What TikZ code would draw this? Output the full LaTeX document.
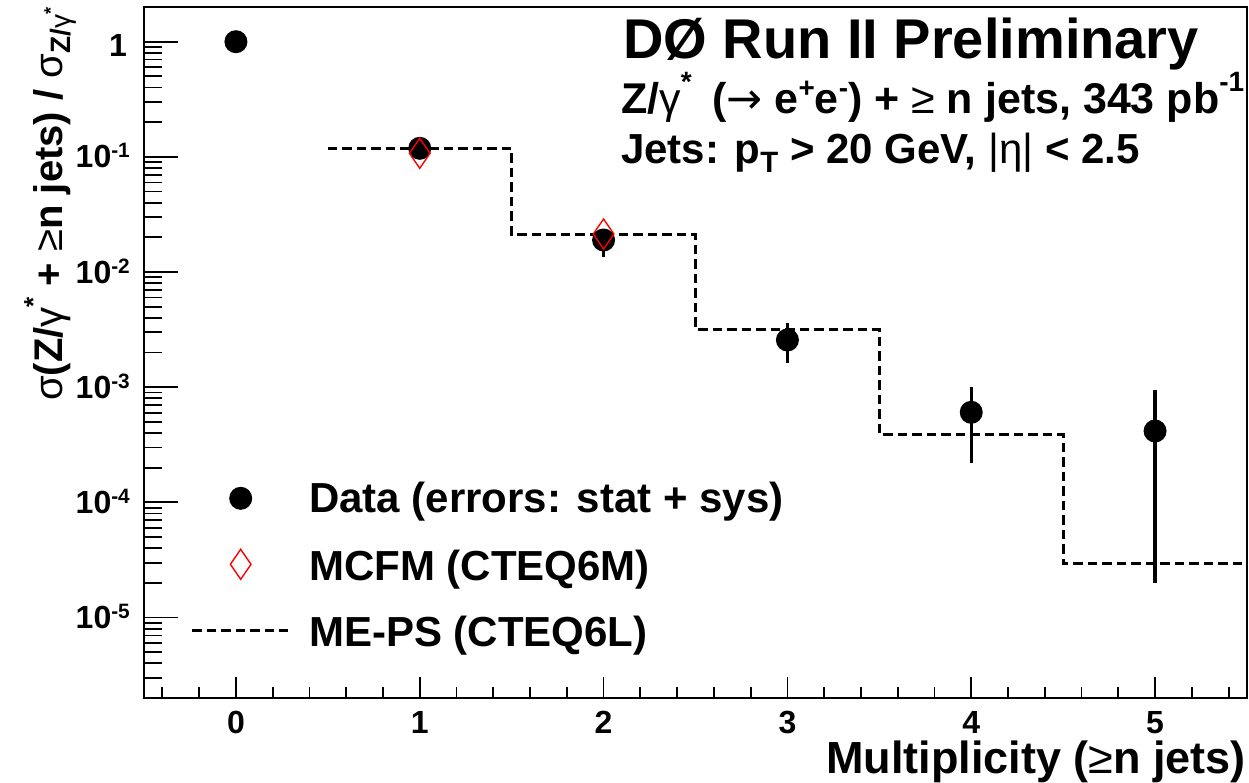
\documentclass[tikz,border=0pt]{standalone}
\usepackage{fontspec}
\setmainfont{Liberation Sans}
\newfontfamily\symf{DejaVu Sans}
\newcommand\rg[1]{{\mdseries #1}}
\newcommand\sps[2]{\raisebox{#1}{\scalebox{0.65}{#2}}}
\newcommand\sbs[1]{\raisebox{-0.22em}{\scalebox{0.7}{#1}}}
\begin{document}
\begin{tikzpicture}[x=1pt,y=-1pt,
  declare function={X(\n)=144+(\n+0.5)*183.83; Y(\l)=41.7-115.17*\l;},
  frame/.style={line width=2pt},
  tick/.style={line width=1.8pt},
  datapt/.style={circle,fill=black,inner sep=0pt,minimum size=23pt},
  errbar/.style={line width=3.5pt},
  mcfm/.style={draw=red,line width=1.4pt,line join=miter},
  meps/.style={line width=3pt,dash pattern=on 9.5pt off 5pt},
  lbl/.style={font=\fontsize{32}{36}\selectfont\bfseries,inner sep=0pt},
  leg/.style={font=\fontsize{42}{46}\selectfont\bfseries,inner sep=0pt,anchor=base west},
  hdr/.style={font=\fontsize{42}{46}\selectfont\bfseries,inner sep=0pt,anchor=base west},
]
\useasboundingbox (0,0) rectangle (1249,782);
\fill[white] (0,0) rectangle (1249,782);

% frame
\draw[frame] (144,7) rectangle (1247,698);

% y ticks
\foreach \d in {0,-1,...,-5} \draw[tick] (144,{Y(\d)}) -- ++(34,0);
\foreach \d in {-1,-2,...,-5} \foreach \k in {2,...,9} \draw[tick] (144,{Y(\d+log10(\k))}) -- ++(17.5,0);
\foreach \k in {3,...,9} \draw[tick] (144,{Y(-6+log10(\k))}) -- ++(17.5,0);

% x ticks
\foreach \i in {-2,...,27} {
  \pgfmathsetmacro\xx{X(\i*0.2)}
  \pgfmathtruncatemacro\m{mod(\i+100,5)}
  \ifnum\m=0 \draw[tick] (\xx,698) -- ++(0,-21); \else \draw[tick] (\xx,698) -- ++(0,-11); \fi
}

% y labels
\node[lbl,anchor=base east] (ly0) at (127,56) {1};
\foreach \d in {1,...,5} \node[lbl,anchor=base east] (ly\d) at (130,{Y(-\d)+11}) {10\sps{10pt}{-\d}};
% x labels
\foreach \n in {0,...,5} \node[lbl,anchor=base] (lx\n) at ({X(\n)},733) {\n};

% axis titles
\node[font=\fontsize{45}{48}\selectfont\bfseries,inner sep=0pt,anchor=base east] (xt) at (1246,773) {Multiplicity (\rg{≥}n jets)};
\node[font=\fontsize{40}{44}\selectfont\bfseries,inner sep=0pt,anchor=base west,rotate=90] (yt) at (62,401)
  {\rg{σ}(Z/\rg{γ}\sps{0.5em}{*} + \rg{≥}n jets) / \rg{σ}\sbs{Z/\rg{γ}\sps{0.5em}{*}}};

% header
\node[font=\fontsize{56}{60}\selectfont\bfseries,inner sep=0pt,anchor=base west] (t1) at (623,58) {DØ Run II Preliminary};
\node[font=\fontsize{43}{46}\selectfont\bfseries,inner sep=0pt,anchor=base west] (t2) at (621,113) {Z/\rg{γ}\sps{0.5em}{*}\hspace{0.2em} (\rg{\symf →} e\sps{0.35em}{+}e\sps{0.35em}{-}) + \rg{≥} n jets, 343 pb\sps{0.5em}{-1}};
\node[hdr] (t3) at (621,163) {Jets: p\sbs{T} > 20 GeV, \rg{|η|} < 2.5};

% ME-PS histogram
\draw[meps] ({X(0.5)},148.5) -| ({X(1.5)},234.5) -| ({X(2.5)},329.3) -| ({X(3.5)},434) -| ({X(4.5)},563) -- (1247,563);

% error bars
\draw[errbar] ({X(2)},229) -- ({X(2)},257);
\draw[errbar] ({X(3)},323) -- ({X(3)},363);
\draw[errbar] ({X(4)},386.7) -- ({X(4)},463.3);
\draw[errbar] ({X(5)},390) -- ({X(5)},583.3);

% data points
\node[datapt] (d0) at ({X(0)},41.7) {};
\node[datapt] (d1) at ({X(1)},148.3) {};
\node[datapt] (d2) at ({X(2)},240) {};
\node[datapt] (d3) at ({X(3)},340) {};
\node[datapt] (d4) at ({X(4)},412.3) {};
\node[datapt] (d5) at ({X(5)},431) {};

% MCFM diamonds
\draw[mcfm] ({X(1)},138.3) -- ++(10.3,15) -- ++(-10.3,15) -- ++(-10.3,-15) -- cycle;
\draw[mcfm] ({X(2)},219) -- ++(10.3,15) -- ++(-10.3,15) -- ++(-10.3,-15) -- cycle;

% legend
\node[datapt] (lc) at (240.7,498.3) {};
\node[leg] (l1) at (309,512) {Data (errors: stat + sys)};
\draw[mcfm] (240.7,549.3) -- ++(10.3,15) -- ++(-10.3,15) -- ++(-10.3,-15) -- cycle;
\node[leg] (l2) at (309,580) {MCFM (CTEQ6M)};
\draw[meps] (192,630) -- (288,630);
\node[leg] (l3) at (309,646) {ME-PS (CTEQ6L)};
\end{tikzpicture}
\end{document}
